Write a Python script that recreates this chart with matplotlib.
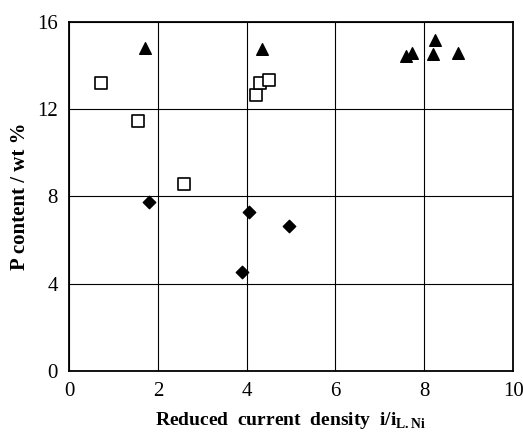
import matplotlib
matplotlib.use("Agg")
import matplotlib.pyplot as plt

plt.rcParams['font.family'] = ['Liberation Serif', 'DejaVu Serif']
plt.rcParams['mathtext.fontset'] = 'custom'
plt.rcParams['mathtext.rm'] = 'Liberation Serif'
plt.rcParams['mathtext.bf'] = 'Liberation Serif:bold'

# P content vs reduced current density, three deposit series
tri_x = [1.7, 4.35, 7.6, 7.72, 8.2, 8.25, 8.75]
tri_y = [14.8, 14.75, 14.45, 14.6, 14.55, 15.2, 14.6]
sq_x = [0.72, 1.55, 2.6, 4.2, 4.3, 4.5]
sq_y = [13.2, 11.45, 8.55, 12.65, 13.2, 13.35]
dia_x = [1.8, 4.05, 3.9, 4.95]
dia_y = [7.75, 7.3, 4.55, 6.65]

x_ticks = [0, 2, 4, 6, 8, 10]
y_ticks = [0, 4, 8, 12, 16]

fig = plt.figure(figsize=(5.23, 4.34), dpi=100)
ax = fig.add_axes([0.132, 0.146, 0.849, 0.803])

ax.scatter(tri_x, tri_y, marker='^', s=70, color='black', zorder=3)
ax.scatter(sq_x, sq_y, marker='s', s=70, facecolor='white', edgecolor='black',
           linewidth=1.2, zorder=3)
ax.scatter(dia_x, dia_y, marker='D', s=40, color='black', zorder=3)

ax.set_xlim(0, 10)
ax.set_ylim(0, 16)
ax.set_xticks(x_ticks)
ax.set_yticks(y_ticks)
ax.grid(True, color='black', linewidth=0.8)
ax.tick_params(length=0, labelsize=15, pad=8)
for sp in ax.spines.values():
    sp.set_linewidth(1.3)

ax.set_xlabel(r'Reduced  current  density  i/i$_{\mathbf{L.Ni}}$', fontsize=14,
              fontweight='bold', labelpad=7)
ax.set_ylabel('P content / wt %', fontsize=15, fontweight='bold', labelpad=5)

fig.savefig('out.png', dpi=100)
